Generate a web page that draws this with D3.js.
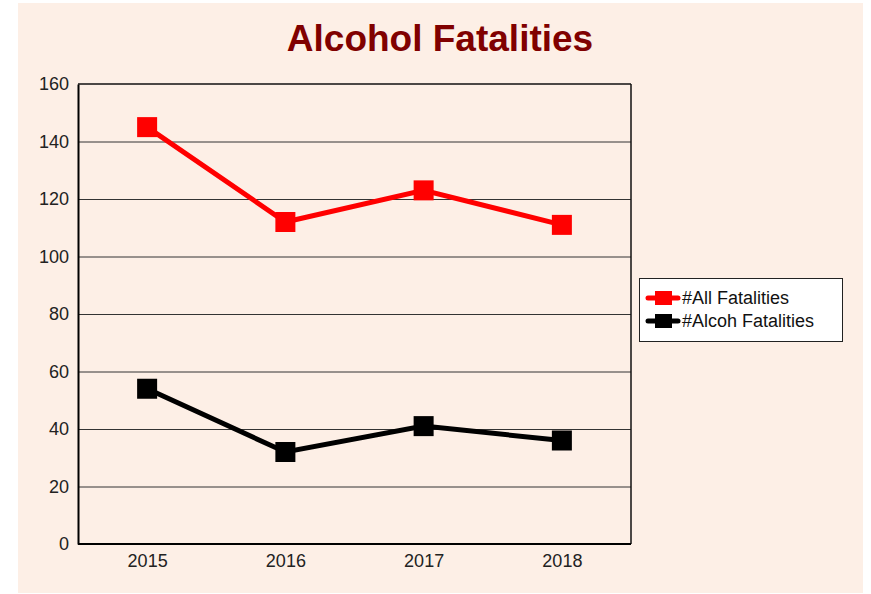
<!DOCTYPE html>
<html><head><meta charset="utf-8">
<script src="https://cdn.jsdelivr.net/npm/d3@7"></script>
<style>body{margin:0;background:#fff;}svg{display:block;font-family:"Liberation Sans",Arial,sans-serif;}</style>
</head><body>
<svg id="c" width="871" height="594"></svg>
<script>
const years = ["2015","2016","2017","2018"];
const allFatalities = [145,112,123,111];
const alcohFatalities = [54,32,41,36];
const yTicks = [0,20,40,60,80,100,120,140,160];
const seriesNames = ["#All Fatalities","#Alcoh Fatalities"];
const seriesColors = ["#ff0000","#000000"];

const svg = d3.select("#c");
svg.append("rect").attr("x",18).attr("y",3).attr("width",845).attr("height",590).attr("fill","#fdefe6");

const m = {l:78,t:84,r:631,b:544};
const x = d3.scalePoint().domain(years).range([m.l,m.r]).padding(0.5);
const y = d3.scaleLinear().domain([0,160]).range([m.b,m.t]);

svg.append("text").attr("x",440).attr("y",51).attr("text-anchor","middle")
  .attr("font-size",37).attr("font-weight","bold").attr("fill","#800000").text("Alcohol Fatalities");

// gridlines
svg.append("g").selectAll("line").data(yTicks.filter(d=>d>0 && d<160)).join("line")
  .attr("x1",m.l).attr("x2",m.r).attr("y1",d=>y(d)+0.5).attr("y2",d=>y(d)+0.5)
  .attr("stroke","#333").attr("stroke-width",1);

// border top/right
svg.append("line").attr("x1",m.l).attr("x2",m.r).attr("y1",m.t).attr("y2",m.t).attr("stroke","#111").attr("stroke-width",1.5);
svg.append("line").attr("x1",m.r).attr("x2",m.r).attr("y1",m.t).attr("y2",m.b).attr("stroke","#111").attr("stroke-width",1.5);

// axes
const ya = svg.append("g").attr("transform",`translate(${m.l},0)`)
  .call(d3.axisLeft(y).tickValues(yTicks).tickSize(0).tickPadding(9));
ya.select(".domain").attr("stroke","#000").attr("stroke-width",2);
ya.selectAll("text").attr("font-size",18).attr("fill","#222").attr("font-family","Liberation Sans, Arial, sans-serif");

const xa = svg.append("g").attr("transform",`translate(0,${m.b})`)
  .call(d3.axisBottom(x).tickSize(0).tickPadding(10));
xa.select(".domain").attr("d",`M${m.l},0H${m.r}`).attr("stroke","#000").attr("stroke-width",2);
xa.selectAll("text").attr("font-size",18).attr("fill","#222").attr("font-family","Liberation Sans, Arial, sans-serif");

const series = [allFatalities, alcohFatalities];
const line = d3.line().x((d,i)=>x(years[i])).y(d=>y(d));
series.forEach((s,k)=>{
  svg.append("path").attr("d",line(s)).attr("fill","none").attr("stroke",seriesColors[k]).attr("stroke-width",5);
  svg.append("g").selectAll("rect").data(s).join("rect")
    .attr("x",(d,i)=>x(years[i])-10).attr("y",d=>y(d)-10).attr("width",20).attr("height",20)
    .attr("fill",seriesColors[k]);
});

// legend
const lg = svg.append("g");
lg.append("rect").attr("x",639.5).attr("y",278.5).attr("width",203).attr("height",63).attr("fill","#fff").attr("stroke","#222").attr("stroke-width",1);
seriesNames.forEach((n,k)=>{
  const cy = 298 + k*23;
  lg.append("line").attr("x1",648).attr("x2",678).attr("y1",cy).attr("y2",cy).attr("stroke",seriesColors[k]).attr("stroke-width",5).attr("stroke-linecap","round");
  lg.append("rect").attr("x",655).attr("y",cy-7).attr("width",17).attr("height",14).attr("fill",seriesColors[k]);
  lg.append("text").attr("x",682).attr("y",cy+6).attr("font-size",18).attr("fill","#111").text(n);
});
</script>
</body></html>
